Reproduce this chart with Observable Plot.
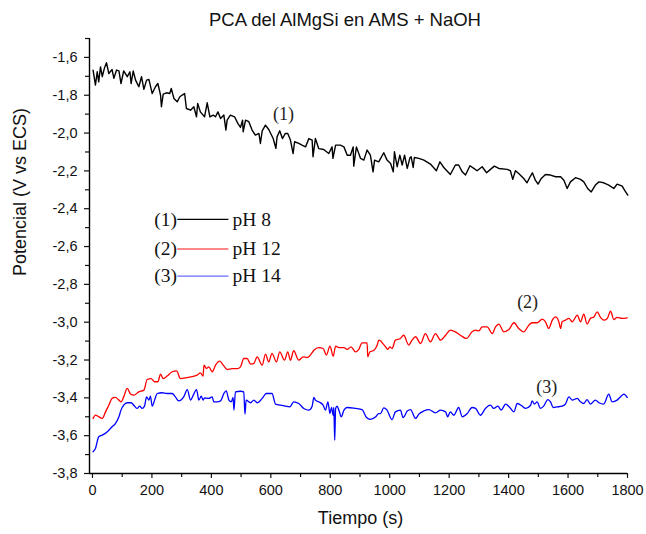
<!DOCTYPE html>
<html>
<head>
<meta charset="utf-8">
<script src="https://cdn.jsdelivr.net/npm/d3@7"></script>
<script src="https://cdn.jsdelivr.net/npm/@observablehq/plot@0.6"></script>
<style>
  html, body { margin: 0; padding: 0; background: #fff; }
  #title { width: 646px; height: 30px; box-sizing: border-box; padding-top: 9px; padding-left: 44px;
    text-align: center; font-family: "Liberation Sans", Arial, sans-serif; font-size: 18.5px; color: #111; line-height: 22px; white-space: nowrap; }
</style>
</head>
<body>
<div id="title">PCA del AlMgSi en AMS + NaOH</div>
<div id="chart"></div>
<script>
// ---- Data ----
const seriesNames = ["pH 8", "pH 12", "pH 14"];
const seriesTags = ["(1)", "(2)", "(3)"];
const seriesColors = ["#000000", "#ff0000", "#0000ff"];
const legendColors = ["#000000", "#ff6060", "#6a6aff"];

const t1 = [2,10,16,21,27,33,40,47,55,66,72,81,89,96,105,117,126,130,137,145,156,165,173,182,190,201,212,220,229,232,238,249,260,265,274,285,294,302,310,316,330,341,350,354,363,377,386,395,406,414,422,431,442,449,453,464,478,489,498,505,507,515,526,537,548,560,565,571,582,593,608,617,621,630,639,649,657,666,675,680,694,705,717,728,739,742,750,761,778,795,806,809,818,834,846,857,868,877,879,888,902,913,924,935,944,949,963,980,991,1003,1012,1016,1025,1034,1042,1050,1059,1068,1072,1079,1083,1098,1115,1137,1157,1169,1182,1204,1221,1232,1244,1255,1270,1283,1294,1311,1326,1339,1352,1367,1395,1406,1414,1423,1434,1451,1462,1471,1480,1490,1499,1510,1524,1541,1558,1575,1586,1597,1608,1625,1642,1653,1666,1678,1692,1704,1720,1737,1754,1765,1774,1782,1790,1801];
const v1 = [-1.667,-1.746,-1.676,-1.729,-1.650,-1.702,-1.658,-1.628,-1.685,-1.664,-1.711,-1.667,-1.671,-1.738,-1.671,-1.702,-1.676,-1.738,-1.672,-1.720,-1.755,-1.702,-1.769,-1.720,-1.717,-1.791,-1.755,-1.738,-1.799,-1.861,-1.794,-1.787,-1.791,-1.764,-1.817,-1.835,-1.808,-1.799,-1.791,-1.870,-1.879,-1.861,-1.914,-1.843,-1.888,-1.914,-1.840,-1.914,-1.905,-1.914,-1.888,-1.923,-1.905,-1.984,-1.932,-1.905,-1.914,-1.949,-1.970,-1.932,-1.993,-1.932,-1.940,-1.984,-2.011,-2.002,-2.055,-1.988,-1.958,-1.981,-2.029,-2.081,-2.020,-1.988,-2.029,-2.002,-2.002,-2.037,-2.108,-2.046,-2.055,-2.064,-2.073,-2.029,-2.037,-2.125,-2.029,-2.082,-2.087,-2.108,-2.073,-2.134,-2.064,-2.064,-2.073,-2.117,-2.117,-2.073,-2.175,-2.073,-2.134,-2.143,-2.090,-2.117,-2.205,-2.143,-2.152,-2.104,-2.143,-2.161,-2.205,-2.099,-2.178,-2.117,-2.169,-2.117,-2.187,-2.131,-2.125,-2.182,-2.129,-2.134,-2.143,-2.164,-2.199,-2.152,-2.182,-2.219,-2.169,-2.169,-2.205,-2.222,-2.173,-2.187,-2.199,-2.178,-2.210,-2.192,-2.175,-2.187,-2.192,-2.199,-2.245,-2.199,-2.214,-2.240,-2.263,-2.235,-2.210,-2.249,-2.270,-2.240,-2.219,-2.222,-2.231,-2.231,-2.249,-2.293,-2.258,-2.236,-2.245,-2.258,-2.293,-2.311,-2.275,-2.258,-2.263,-2.275,-2.293,-2.270,-2.275,-2.281,-2.302,-2.328];

const t2 = [2,10,18,33,44,55,66,77,89,96,105,117,128,139,156,173,184,197,209,220,229,238,251,268,283,296,313,330,352,363,372,375,384,391,403,414,428,440,453,470,487,498,509,520,532,543,554,571,582,593,604,619,630,646,657,666,677,694,709,722,733,745,761,776,787,799,810,818,829,846,857,870,885,896,907,924,926,933,947,958,963,969,975,986,994,1000,1008,1019,1036,1047,1064,1075,1087,1104,1120,1137,1154,1171,1188,1204,1221,1238,1258,1277,1289,1300,1311,1328,1345,1356,1367,1384,1401,1418,1434,1451,1468,1479,1496,1513,1524,1535,1547,1558,1569,1575,1580,1591,1603,1614,1631,1642,1653,1664,1675,1687,1698,1709,1720,1732,1743,1754,1765,1782,1799];
const v2 = [-3.509,-3.491,-3.497,-3.509,-3.474,-3.439,-3.403,-3.398,-3.412,-3.421,-3.395,-3.350,-3.380,-3.386,-3.368,-3.359,-3.303,-3.298,-3.315,-3.315,-3.275,-3.298,-3.285,-3.262,-3.257,-3.298,-3.294,-3.289,-3.280,-3.268,-3.285,-3.227,-3.245,-3.236,-3.262,-3.227,-3.206,-3.227,-3.250,-3.245,-3.245,-3.236,-3.192,-3.192,-3.222,-3.218,-3.183,-3.227,-3.169,-3.210,-3.165,-3.210,-3.157,-3.201,-3.157,-3.201,-3.151,-3.201,-3.183,-3.187,-3.174,-3.148,-3.134,-3.139,-3.174,-3.127,-3.180,-3.127,-3.134,-3.134,-3.144,-3.130,-3.157,-3.144,-3.109,-3.109,-3.183,-3.157,-3.148,-3.121,-3.095,-3.098,-3.109,-3.130,-3.144,-3.130,-3.139,-3.095,-3.086,-3.069,-3.121,-3.095,-3.077,-3.113,-3.060,-3.104,-3.060,-3.095,-3.069,-3.042,-3.051,-3.069,-3.086,-3.051,-3.042,-3.046,-3.025,-3.025,-3.060,-3.025,-3.010,-3.051,-3.039,-3.003,-3.033,-3.051,-3.016,-3.003,-3.003,-2.984,-2.998,-3.033,-2.989,-2.972,-2.998,-3.033,-2.998,-2.989,-2.980,-2.998,-2.963,-2.998,-2.958,-3.010,-2.980,-2.972,-2.945,-2.975,-2.989,-2.980,-2.942,-2.986,-2.975,-2.980,-2.977];

const t3 = [2,10,21,33,49,66,77,89,96,105,117,130,139,150,159,167,175,182,190,195,201,209,218,234,251,268,279,290,307,319,330,339,350,358,366,372,377,391,403,408,419,431,442,450,459,467,473,476,481,498,509,513,517,532,543,554,571,585,604,616,633,649,664,677,694,711,728,739,745,750,761,776,784,792,799,804,810,812,815,818,823,829,837,846,857,885,907,922,935,953,963,969,980,991,1008,1019,1036,1045,1059,1070,1087,1098,1115,1132,1154,1171,1188,1195,1204,1216,1232,1244,1261,1277,1289,1305,1322,1339,1350,1364,1375,1390,1404,1418,1429,1446,1457,1474,1479,1487,1496,1507,1518,1532,1541,1550,1563,1580,1591,1603,1614,1631,1642,1653,1664,1675,1692,1704,1720,1737,1748,1765,1776,1788,1799];
const v3 = [-3.685,-3.668,-3.606,-3.597,-3.580,-3.553,-3.536,-3.500,-3.465,-3.439,-3.426,-3.426,-3.439,-3.456,-3.444,-3.456,-3.444,-3.395,-3.412,-3.391,-3.444,-3.412,-3.377,-3.373,-3.377,-3.377,-3.395,-3.416,-3.395,-3.356,-3.412,-3.386,-3.356,-3.412,-3.391,-3.412,-3.400,-3.403,-3.395,-3.421,-3.421,-3.416,-3.377,-3.363,-3.412,-3.421,-3.398,-3.465,-3.368,-3.365,-3.368,-3.486,-3.412,-3.426,-3.412,-3.426,-3.403,-3.377,-3.377,-3.433,-3.439,-3.444,-3.448,-3.421,-3.430,-3.456,-3.465,-3.444,-3.398,-3.412,-3.421,-3.439,-3.465,-3.421,-3.483,-3.451,-3.492,-3.451,-3.624,-3.456,-3.444,-3.465,-3.500,-3.465,-3.451,-3.456,-3.462,-3.504,-3.514,-3.500,-3.483,-3.483,-3.453,-3.465,-3.515,-3.474,-3.465,-3.504,-3.470,-3.462,-3.509,-3.486,-3.469,-3.462,-3.479,-3.465,-3.474,-3.500,-3.474,-3.492,-3.451,-3.500,-3.483,-3.451,-3.456,-3.492,-3.456,-3.439,-3.456,-3.444,-3.465,-3.433,-3.451,-3.474,-3.430,-3.444,-3.456,-3.439,-3.416,-3.433,-3.421,-3.456,-3.444,-3.409,-3.421,-3.451,-3.448,-3.444,-3.433,-3.395,-3.412,-3.403,-3.421,-3.430,-3.409,-3.433,-3.412,-3.426,-3.433,-3.380,-3.421,-3.412,-3.395,-3.380,-3.398];

const xMajor = [0, 200, 400, 600, 800, 1000, 1200, 1400, 1600, 1800];
const xMinor = [100, 300, 500, 700, 900, 1100, 1300, 1500, 1700];
const yMajor = [-3.8, -3.6, -3.4, -3.2, -3.0, -2.8, -2.6, -2.4, -2.2, -2.0, -1.8, -1.6];
const yMinor = [-3.7, -3.5, -3.3, -3.1, -2.9, -2.7, -2.5, -2.3, -2.1, -1.9, -1.7, -1.5];

// ---- Build tables ----
const toRows = (ts, vs) => ts.map((t, i) => ({t, v: vs[i]}));
const s1 = toRows(t1, v1), s2 = toRows(t2, v2), s3 = toRows(t3, v3);

// annotation positions in data units
const tagPos = [{x: 643, y: -1.90}, {x: 1464, y: -2.894}, {x: 1528, y: -3.343}];
const tagRows = seriesTags.map((s, i) => ({s, ...tagPos[i]}));

// legend layout (data units)
const legendY = [-2.456, -2.613, -2.756];
const legendRows = seriesNames.map((n, i) => ({name: n, tag: seriesTags[i], color: legendColors[i], y: legendY[i]}));
const legX1 = 287, legX2 = 459, legTagX = 284, legNameX = 471;

const fmt = d => d.toFixed(1).replace(".", ",");
const serif = "'Liberation Serif', 'Times New Roman', serif";

const chart = Plot.plot({
  width: 646,
  height: 504,
  marginLeft: 89,
  marginRight: 19,
  marginTop: 8,
  marginBottom: 61,
  style: {fontFamily: "'Liberation Sans', Arial, sans-serif", fontSize: "14.5px", color: "#111", background: "#fff"},
  x: {domain: [-10, 1800]},
  y: {domain: [-3.8, -1.5]},
  marks: [
    Plot.axisX(xMajor, {tickSize: 5, tickPadding: 6, tickFormat: d => String(d), label: null, strokeWidth: 1.2}),
    Plot.axisX(xMinor, {tickSize: 4, tickFormat: () => "", label: null, strokeWidth: 1.2}),
    Plot.axisY(yMajor, {tickSize: 5, tickPadding: 7, tickFormat: fmt, label: null, strokeWidth: 1.2}),
    Plot.axisY(yMinor, {tickSize: 4, tickFormat: () => "", label: null, strokeWidth: 1.2}),
    Plot.ruleX([-10], {y1: -3.8, y2: -1.5, stroke: "#000", strokeWidth: 1.4}),
    Plot.ruleY([-3.8], {x1: -10, x2: 1800, stroke: "#000", strokeWidth: 1.4}),
    Plot.line(s1, {x: "t", y: "v", stroke: seriesColors[0], strokeWidth: 1.4}),
    Plot.line(s2, {x: "t", y: "v", stroke: seriesColors[1], strokeWidth: 1.3, curve: "monotone-x"}),
    Plot.line(s3, {x: "t", y: "v", stroke: seriesColors[2], strokeWidth: 1.3, curve: "monotone-x"}),
    Plot.text(tagRows, {x: "x", y: "y", text: "s", fontFamily: serif, fontSize: 18, fill: "#222"}),
    // legend
    Plot.ruleY(legendRows, {y: "y", x1: legX1, x2: legX2, stroke: "color", strokeWidth: 1.3}),
    Plot.text(legendRows, {x: legTagX, y: "y", text: "tag", textAnchor: "end", fontFamily: serif, fontSize: 19.5, fill: "#111"}),
    Plot.text(legendRows, {x: legNameX, y: "y", text: "name", textAnchor: "start", fontFamily: serif, fontSize: 19.5, fill: "#111"}),
    // axis titles
    Plot.text(["Potencial (V vs ECS)"], {frameAnchor: "left", dx: -69, dy: 20, rotate: -90, fontSize: 18, fill: "#111"}),
    Plot.text(["Tiempo (s)"], {frameAnchor: "bottom", dx: 2, dy: 50, fontSize: 18, fill: "#111"})
  ]
});
document.getElementById("chart").appendChild(chart);
</script>
</body>
</html>
